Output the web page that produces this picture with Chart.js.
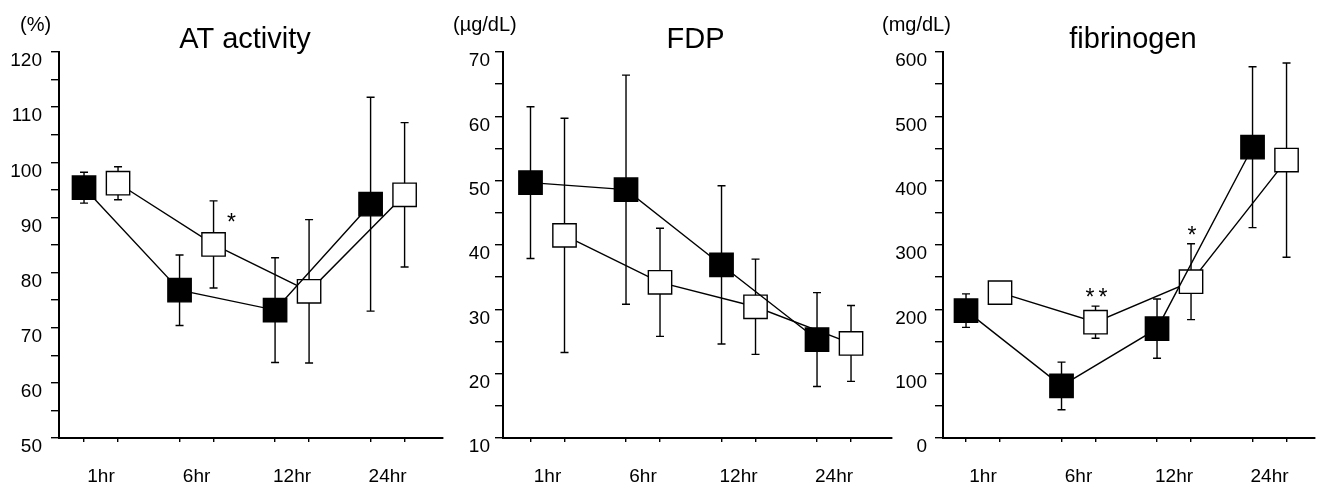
<!DOCTYPE html>
<html>
<head>
<meta charset="utf-8">
<script src="https://cdn.jsdelivr.net/npm/chart.js@4.4.0/dist/chart.umd.min.js"></script>
<style>
  html, body { margin: 0; padding: 0; background: #fff; }
  body { width: 1320px; height: 486px; position: relative; overflow: hidden; }
  canvas { position: absolute; top: 0; }
</style>
</head>
<body>
<canvas id="c1" width="446" height="486" style="left:0px"></canvas>
<canvas id="c2" width="450" height="486" style="left:446px"></canvas>
<canvas id="c3" width="440" height="486" style="left:880px"></canvas>
<script>
const timeLabels = ['1hr', '6hr', '12hr', '24hr'];

// AT activity (%)
const atFilled = [95.4, 76.8, 73.2, 92.4];
const atFilledSD = [2.8, 6.4, 9.5, 19.4];
const atOpen = [96.2, 85.1, 76.6, 94.1];
const atOpenSD = [3.0, 7.9, 13.0, 13.1];
const atOpenSig = ['', '*', '', ''];
const atTicks = [50, 60, 70, 80, 90, 100, 110, 120];

// FDP (µg/dL)
const fdpFilled = [49.7, 48.6, 36.9, 25.3];
const fdpFilledSD = [11.8, 17.8, 12.3, 7.3];
const fdpOpen = [41.5, 34.2, 30.4, 24.7];
const fdpOpenSD = [18.2, 8.4, 7.4, 5.9];
const fdpOpenSig = ['', '', '', ''];
const fdpTicks = [10, 20, 30, 40, 50, 60, 70];

// fibrinogen (mg/dL)
const fibFilled = [198, 81, 170, 452];
const fibFilledSD = [26, 37, 46, 125];
const fibOpen = [226, 180, 243, 432];
const fibOpenSD = [10, 25, 59, 151];
const fibOpenSig = ['', '**', '*', ''];
const fibTicks = [0, 100, 200, 300, 400, 500, 600];

const FONT = '"Liberation Sans", Arial, Helvetica, sans-serif';
const PAIR = 0.178; // half distance between the two groups at one time point

const errorBars = {
  id: 'errorBars',
  beforeDatasetsDraw(chart) {
    const ctx = chart.ctx;
    const y = chart.scales.y;
    ctx.save();
    ctx.strokeStyle = '#000';
    ctx.lineWidth = 1.4;
    chart.data.datasets.forEach((ds, i) => {
      chart.getDatasetMeta(i).data.forEach((pt, j) => {
        const v = ds.data[j].y, sd = ds.sd[j];
        const top = y.getPixelForValue(v + sd);
        const bot = y.getPixelForValue(v - sd);
        ctx.beginPath();
        ctx.moveTo(pt.x, top); ctx.lineTo(pt.x, bot);
        ctx.moveTo(pt.x - 4, top); ctx.lineTo(pt.x + 4, top);
        ctx.moveTo(pt.x - 4, bot); ctx.lineTo(pt.x + 4, bot);
        ctx.stroke();
      });
    });
    ctx.restore();
  }
};

const panelText = {
  id: 'panelText',
  afterDraw(chart, args, o) {
    const ctx = chart.ctx;
    const area = chart.chartArea;
    ctx.save();
    ctx.fillStyle = '#000';
    ctx.textBaseline = 'alphabetic';
    ctx.textAlign = 'center';
    ctx.font = '29px ' + FONT;
    ctx.fillText(o.title, (area.left + area.right) / 2 + o.titleDx, 48);
    ctx.textAlign = 'left';
    ctx.font = '20px ' + FONT;
    ctx.fillText(o.unit, o.unitX, 31);

    // significance marks over the open-square series
    const ds = chart.data.datasets[1];
    const meta = chart.getDatasetMeta(1);
    ctx.font = '23px ' + FONT;
    ctx.textAlign = 'center';
    ds.sig.forEach((s, j) => {
      if (!s) return;
      const pt = meta.data[j];
      const top = chart.scales.y.getPixelForValue(ds.data[j].y + ds.sd[j]);
      const chars = s.split('');
      const gap = 13;
      let x0, base;
      if (o.sigSide === 'right') { x0 = pt.x + 18; base = top + 29; }
      else { x0 = pt.x + 1; base = top - 1; }
      chars.forEach((c, k) => {
        ctx.fillText(c, x0 + (k - (chars.length - 1) / 2) * gap, base);
      });
    });
    ctx.restore();
  }
};

function makePanel(id, p) {
  const tickStep = (p.ticks[1] - p.ticks[0]) / 2;
  new Chart(document.getElementById(id), {
    type: 'line',
    data: {
      datasets: [
        {
          data: p.filled.map((v, i) => ({ x: i - PAIR, y: v })),
          sd: p.filledSD,
          sig: [],
          borderColor: '#000', borderWidth: 1.4,
          pointStyle: 'rect', pointRadius: 16.5, pointBorderWidth: 1.4,
          pointBackgroundColor: '#000', pointBorderColor: '#000',
          tension: 0, clip: false
        },
        {
          data: p.open.map((v, i) => ({ x: i + PAIR, y: v })),
          sd: p.openSD,
          sig: p.sig,
          borderColor: '#000', borderWidth: 1.4,
          pointStyle: 'rect', pointRadius: 16.5, pointBorderWidth: 1.4,
          pointBackgroundColor: '#fff', pointBorderColor: '#000',
          tension: 0, clip: false
        }
      ]
    },
    options: {
      responsive: false,
      animation: false,
      events: [],
      layout: { autoPadding: false, padding: { top: 52, right: p.rightPad, left: 0, bottom: 0 } },
      plugins: {
        legend: { display: false },
        tooltip: { enabled: false },
        panelText: { title: p.title, unit: p.unit, unitX: p.unitX, titleDx: p.titleDx, sigSide: p.sigSide }
      },
      scales: {
        x: {
          type: 'linear',
          min: p.xMin, max: p.xMax,
          afterBuildTicks: s => {
            const t = [];
            p.labels.forEach((l, i) => { t.push({ value: i - PAIR }); t.push({ value: i + PAIR }); });
            s.ticks = t;
          },
          afterFit: s => { s.height = 48; s.paddingLeft = 0; s.paddingRight = 0; },
          border: { display: true, color: '#000', width: 2 },
          grid: { drawOnChartArea: false, drawTicks: true, tickLength: 4, color: '#000', lineWidth: 1.4 },
          ticks: {
            autoSkip: false, maxRotation: 0, padding: 23, labelOffset: 17,
            color: '#000', font: { family: FONT, size: 19 },
            callback: (v, i) => (i % 2 === 0 ? p.labels[i / 2] : '')
          }
        },
        y: {
          min: p.ticks[0], max: p.ticks[p.ticks.length - 1],
          afterFit: s => { s.width = p.axisWidth; s.paddingTop = 0; s.paddingBottom = 0; },
          border: { display: true, color: '#000', width: 2 },
          grid: { drawOnChartArea: false, drawTicks: true, tickLength: 8, color: '#000', lineWidth: 1.4 },
          ticks: {
            stepSize: tickStep, padding: p.labelPad, labelOffset: 9,
            color: '#000', font: { family: FONT, size: 19 },
            callback: v => (p.ticks.includes(v) ? String(v) : '')
          }
        }
      }
    },
    plugins: [errorBars, panelText]
  });
}

makePanel('c1', {
  title: 'AT activity', unit: '(%)', labels: timeLabels,
  filled: atFilled, filledSD: atFilledSD, open: atOpen, openSD: atOpenSD, sig: atOpenSig, ticks: atTicks,
  axisWidth: 59, rightPad: 3, xMin: -0.44, xMax: 3.58, unitX: 20, titleDx: -6, labelPad: 9, sigSide: 'right'
});
makePanel('c2', {
  title: 'FDP', unit: '(µg/dL)', labels: timeLabels,
  filled: fdpFilled, filledSD: fdpFilledSD, open: fdpOpen, openSD: fdpOpenSD, sig: fdpOpenSig, ticks: fdpTicks,
  axisWidth: 57, rightPad: 4, xMin: -0.466, xMax: 3.607, unitX: 7, titleDx: -2, labelPad: 5, sigSide: 'top'
});
makePanel('c3', {
  title: 'fibrinogen', unit: '(mg/dL)', labels: timeLabels,
  filled: fibFilled, filledSD: fibFilledSD, open: fibOpen, openSD: fibOpenSD, sig: fibOpenSig, ticks: fibTicks,
  axisWidth: 63, rightPad: 5, xMin: -0.419, xMax: 3.476, unitX: 2, titleDx: 4, labelPad: 8, sigSide: 'top'
});
</script>
</body>
</html>
